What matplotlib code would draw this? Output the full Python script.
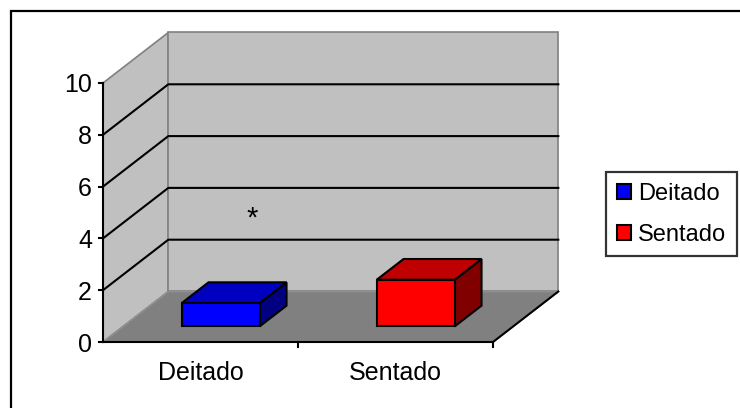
#!/usr/bin/env python3
"""
3D-style column chart (Excel look): two postures, one bar each,
grey walls, dark floor and a legend box on the right.
"""

import matplotlib
matplotlib.use("Agg")
import matplotlib.pyplot as plt
from matplotlib.patches import Polygon, Rectangle, Patch

CATEGORIES = ["Deitado", "Sentado"]
VALUES     = [0.9, 1.8]
Y_TICKS    = [0, 2, 4, 6, 8, 10]
NOTE       = "*"

FACE  = ["#0000FF", "#FF0000"]
TOP   = ["#0000C0", "#C00000"]
SIDE  = ["#000080", "#800000"]

plt.rcParams["font.family"] = ["Liberation Sans", "DejaVu Sans"]
FS = 18
LW = 1.5

W, H = 740, 408
fig = plt.figure(figsize=(W / 100, H / 100), dpi=100)

# outer chart border (only the top/left edges fall inside the image)
fig.patches.append(Rectangle((11 / W, -0.05), 1.1, 1 - 11 / H + 0.05,
                             transform=fig.transFigure, fill=False,
                             edgecolor="black", linewidth=1.6))

# the axes box is the front plane of the 3D plot
ax = fig.add_axes([103 / W, (H - 342) / H, 390 / W, 259 / H])
ax.set_xlim(0, len(CATEGORIES))
ax.set_ylim(0, Y_TICKS[-1])
ax.axis("off")

# oblique offset for full depth, in data units
DX, DY = 0.335, 1.95
NX = len(CATEGORIES)
YMAX = Y_TICKS[-1]


def depth(x, y, d):
    return (x + d * DX, y + d * DY)


def poly(pts, **kw):
    ax.add_patch(Polygon(pts, closed=True, clip_on=False, **kw))


# side wall, back wall, floor
poly([depth(0, 0, 0), depth(0, YMAX, 0), depth(0, YMAX, 1), depth(0, 0, 1)],
     facecolor="#C0C0C0", edgecolor="#808080", linewidth=1.2, zorder=1)
poly([depth(0, 0, 1), depth(NX, 0, 1), depth(NX, YMAX, 1), depth(0, YMAX, 1)],
     facecolor="#C0C0C0", edgecolor="#808080", linewidth=1.2, zorder=1)
poly([depth(0, 0, 0), depth(NX, 0, 0), depth(NX, 0, 1), depth(0, 0, 1)],
     facecolor="#808080", edgecolor="#909090", linewidth=1.2, zorder=2)

# gridlines running along side wall and back wall
for v in Y_TICKS[1:-1]:
    xs = [0, DX, NX + DX]
    ys = [v, v + DY, v + DY]
    ax.plot(xs, ys, color="black", linewidth=LW, clip_on=False, zorder=3)

# bars: front face, top face, right side face
D0, D1 = 0.31, 0.72
HALF = 0.2
for i, val in enumerate(VALUES):
    x0, x1 = i + 0.5 - HALF, i + 0.5 + HALF
    front = [depth(x0, 0, D0), depth(x1, 0, D0),
             depth(x1, val, D0), depth(x0, val, D0)]
    top = [depth(x0, val, D0), depth(x1, val, D0),
           depth(x1, val, D1), depth(x0, val, D1)]
    side = [depth(x1, 0, D0), depth(x1, 0, D1),
            depth(x1, val, D1), depth(x1, val, D0)]
    for pts, col in ((side, SIDE[i]), (top, TOP[i]), (front, FACE[i])):
        poly(pts, facecolor=col, edgecolor="black", linewidth=LW,
             joinstyle="miter", zorder=5)

# axis lines
ax.plot([0, 0], [0, YMAX], color="black", linewidth=LW,
        clip_on=False, zorder=6)
ax.plot([0, NX, NX + DX], [0, 0, DY], color="black", linewidth=LW,
        clip_on=False, zorder=6)

# value axis ticks and labels
tick_dx = 4 / 195
for v in Y_TICKS:
    ax.plot([-tick_dx, 0], [v, v], color="black", linewidth=LW,
            clip_on=False, zorder=6)
    ax.annotate(str(v), xy=(0, v), xytext=(-11, 0),
                textcoords="offset pixels", ha="right", va="center_baseline",
                fontsize=FS, annotation_clip=False)

# category ticks and labels
tick_dy = 5 / 25.9
for i in range(1, NX + 1):
    ax.plot([i, i], [0, -tick_dy], color="black", linewidth=LW,
            clip_on=False, zorder=6)
for i, name in enumerate(CATEGORIES):
    ax.annotate(name, xy=(i + 0.5, 0), xytext=(0, -28),
                textcoords="offset pixels", ha="center",
                va="center_baseline", fontsize=FS, annotation_clip=False)

# significance mark
ax.text(0.764, 4.75, NOTE, ha="center", va="center", fontsize=21, zorder=7)

handles = [Patch(facecolor=FACE[i], edgecolor="black", linewidth=LW,
                 label=CATEGORIES[i]) for i in range(NX)]
leg = fig.legend(handles=handles, loc="upper left",
                 bbox_to_anchor=(606 / W, 1 - 172 / H),
                 fontsize=17, frameon=True, fancybox=False,
                 handlelength=0.6, handleheight=0.6, handletextpad=0.3,
                 labelspacing=0.8, borderpad=0.45, borderaxespad=0)
leg.get_frame().set_edgecolor("black")
leg.get_frame().set_linewidth(1.6)

fig.savefig("out.png", dpi=100)
